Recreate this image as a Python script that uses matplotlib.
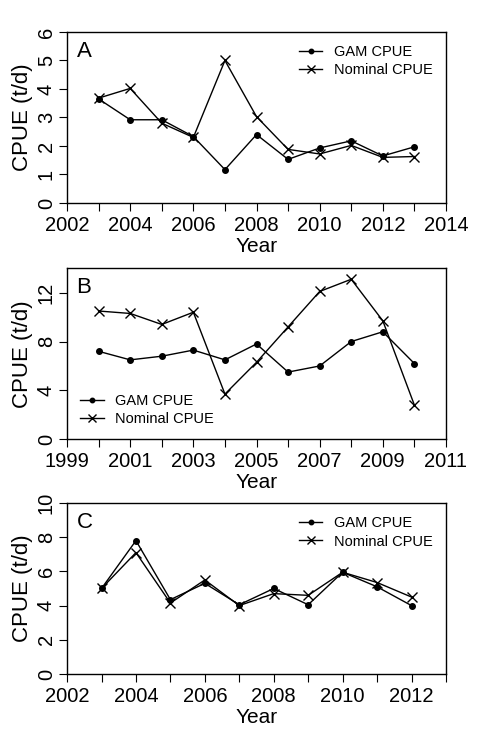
import numpy as np
import matplotlib
matplotlib.use("Agg")
import matplotlib.pyplot as plt

plt.rcParams['font.family'] = ['Liberation Sans', 'DejaVu Sans']

# panel A
years_a = np.arange(2003, 2014)
gam_a = [3.65, 2.92, 2.92, 2.33, 1.17, 2.4, 1.53, 1.93, 2.18, 1.65, 1.97]
nom_a = [3.68, 4.02, 2.8, 2.3, 5.0, 3.03, 1.88, 1.72, 2.02, 1.6, 1.63]
# panel B
years_b = np.arange(2000, 2011)
gam_b = [7.2, 6.5, 6.8, 7.3, 6.5, 7.8, 5.5, 6.0, 8.0, 8.8, 6.2]
nom_b = [10.5, 10.3, 9.4, 10.4, 3.7, 6.3, 9.2, 12.1, 13.1, 9.7, 2.8]
# panel C
years_c = np.arange(2003, 2013)
gam_c = [5.0, 7.8, 4.35, 5.3, 4.05, 5.0, 4.05, 5.95, 5.1, 4.0]
nom_c = [5.0, 7.1, 4.15, 5.5, 4.0, 4.7, 4.6, 5.95, 5.35, 4.5]

fig = plt.figure(figsize=(4.79, 7.37), dpi=100)

panels = [
    ("A", years_a, gam_a, nom_a, (2002, 2014), np.arange(2002, 2015), np.arange(2002, 2015, 2),
     (0, 6), np.arange(0, 7), 0.7246, "upper right"),
    ("B", years_b, gam_b, nom_b, (1999, 2011), np.arange(1999, 2012), np.arange(1999, 2012, 2),
     (0, 14), np.arange(0, 13, 4), 0.404, "lower left"),
    ("C", years_c, gam_c, nom_c, (2002, 2013), np.arange(2002, 2014), np.arange(2002, 2013, 2),
     (0, 10), np.arange(0, 11, 2), 0.0855, "upper right"),
]

for lab, yrs, gam, nom, xl, xt, xtl, yl, yt, bot, loc in panels:
    ax = fig.add_axes([0.14, bot, 0.791, 0.232])
    ax.plot(yrs, gam, '-o', color='black', lw=1, ms=4, label="GAM CPUE")
    ax.plot(yrs, nom, '-x', color='black', lw=1, ms=7, mew=1, label="Nominal CPUE")
    ax.set_xlim(*xl)
    ax.set_ylim(*yl)
    ax.set_xticks(xt)
    ax.set_xticklabels([str(t) if t in xtl else "" for t in xt])
    ax.set_yticks(yt)
    ax.tick_params(axis='y', labelrotation=90, labelsize=14.5, direction='out', length=6, pad=2)
    ax.tick_params(axis='x', labelsize=14.5, direction='out', length=6)
    for lbl in ax.get_yticklabels():
        lbl.set_va('center')
    ax.set_xlabel("Year", fontsize=15, labelpad=1)
    ax.set_ylabel("CPUE (t/d)", fontsize=16, labelpad=3)
    ax.text(0.025, 0.95, lab, transform=ax.transAxes, fontsize=16, va='top', ha='left')
    ax.legend(loc=loc, frameon=False, fontsize=10.5, handlelength=1.6, handletextpad=0.8,
              labelspacing=0.3, borderaxespad=0.5, markerscale=0.8)
    for s in ax.spines.values():
        s.set_linewidth(1)

fig.savefig("out.png", dpi=100)
